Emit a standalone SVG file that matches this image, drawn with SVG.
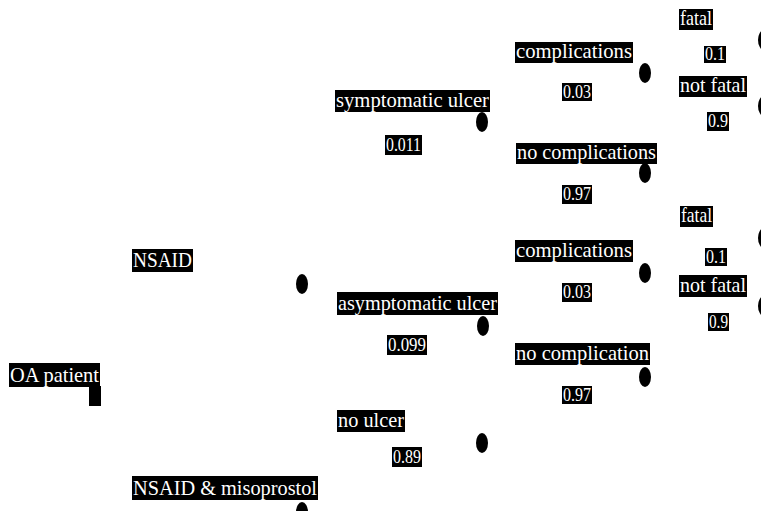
<svg xmlns="http://www.w3.org/2000/svg" width="761" height="511" viewBox="0 0 761 511">
<style>
rect.lb{fill:#000}
text{font-family:"Liberation Serif","Times New Roman",serif;font-size:21px;fill:#fff}
text.n{font-size:19px}
.d{fill:#000}
</style>
<rect width="761" height="511" fill="#fff"/>
<g id="connectors"></g>
<g id="oa-patient">
<rect class="lb" x="9" y="363" width="91" height="24"/>
<text x="10" y="382" textLength="89" lengthAdjust="spacingAndGlyphs">OA patient</text>
<rect class="d" x="89" y="386" width="12" height="20"/>
</g>
<g id="nsaid">
<rect class="lb" x="132" y="249" width="61" height="23"/>
<text x="133" y="267" textLength="59" lengthAdjust="spacingAndGlyphs">NSAID</text>
<ellipse class="d" cx="302" cy="284" rx="6" ry="10"/>
</g>
<g id="nsaid-misoprostol">
<rect class="lb" x="132" y="476" width="186" height="24"/>
<text x="133" y="495" textLength="184" lengthAdjust="spacingAndGlyphs">NSAID &amp; misoprostol</text>
<ellipse class="d" cx="302" cy="512" rx="6" ry="10"/>
</g>
<g id="symptomatic-ulcer">
<rect class="lb" x="335" y="90" width="155" height="22"/>
<text x="336" y="107" textLength="153" lengthAdjust="spacingAndGlyphs">symptomatic ulcer</text>
<rect class="lb" x="385" y="135" width="37" height="20"/>
<text class="n" x="386" y="151" textLength="35" lengthAdjust="spacingAndGlyphs">0.011</text>
<ellipse class="d" cx="482" cy="122" rx="6" ry="10"/>
</g>
<g id="asymptomatic-ulcer">
<rect class="lb" x="337" y="292" width="161" height="23"/>
<text x="338" y="310" textLength="159" lengthAdjust="spacingAndGlyphs">asymptomatic ulcer</text>
<rect class="lb" x="387" y="335" width="40" height="20"/>
<text class="n" x="388" y="351" textLength="38" lengthAdjust="spacingAndGlyphs">0.099</text>
<ellipse class="d" cx="483" cy="326" rx="6" ry="10"/>
</g>
<g id="no-ulcer">
<rect class="lb" x="337" y="410" width="68" height="22"/>
<text x="338" y="427" textLength="66" lengthAdjust="spacingAndGlyphs">no ulcer</text>
<rect class="lb" x="392" y="447" width="30" height="20"/>
<text class="n" x="393" y="463" textLength="28" lengthAdjust="spacingAndGlyphs">0.89</text>
<ellipse class="d" cx="482" cy="443" rx="6" ry="10"/>
</g>
<g id="complications-1">
<rect class="lb" x="515" y="42" width="118" height="21"/>
<text x="516" y="58" textLength="116" lengthAdjust="spacingAndGlyphs">complications</text>
<rect class="lb" x="562" y="83" width="30" height="18"/>
<text class="n" x="563" y="98" textLength="28" lengthAdjust="spacingAndGlyphs">0.03</text>
<ellipse class="d" cx="645" cy="73" rx="6" ry="10"/>
</g>
<g id="no-complications-1">
<rect class="lb" x="516" y="143" width="141" height="21"/>
<text x="517" y="159" textLength="139" lengthAdjust="spacingAndGlyphs">no complications</text>
<rect class="lb" x="562" y="185" width="30" height="19"/>
<text class="n" x="563" y="200" textLength="28" lengthAdjust="spacingAndGlyphs">0.97</text>
<ellipse class="d" cx="645" cy="173" rx="6" ry="10"/>
</g>
<g id="complications-2">
<rect class="lb" x="515" y="240" width="118" height="22"/>
<text x="516" y="257" textLength="116" lengthAdjust="spacingAndGlyphs">complications</text>
<rect class="lb" x="562" y="283" width="30" height="19"/>
<text class="n" x="563" y="298" textLength="28" lengthAdjust="spacingAndGlyphs">0.03</text>
<ellipse class="d" cx="645" cy="273" rx="6" ry="10"/>
</g>
<g id="no-complication-2">
<rect class="lb" x="515" y="343" width="135" height="22"/>
<text x="516" y="360" textLength="133" lengthAdjust="spacingAndGlyphs">no complication</text>
<rect class="lb" x="562" y="386" width="30" height="18"/>
<text class="n" x="563" y="401" textLength="28" lengthAdjust="spacingAndGlyphs">0.97</text>
<ellipse class="d" cx="645" cy="377" rx="6" ry="10"/>
</g>
<g id="fatal-1">
<rect class="lb" x="679" y="9" width="34" height="21"/>
<text x="680" y="25" textLength="32" lengthAdjust="spacingAndGlyphs">fatal</text>
<rect class="lb" x="704" y="46" width="22" height="17"/>
<text class="n" x="705" y="60" textLength="20" lengthAdjust="spacingAndGlyphs">0.1</text>
<ellipse class="d" cx="764" cy="40" rx="6" ry="10"/>
</g>
<g id="not-fatal-1">
<rect class="lb" x="679" y="76" width="68" height="21"/>
<text x="680" y="92" textLength="66" lengthAdjust="spacingAndGlyphs">not fatal</text>
<rect class="lb" x="707" y="112" width="22" height="19"/>
<text class="n" x="708" y="127" textLength="20" lengthAdjust="spacingAndGlyphs">0.9</text>
<ellipse class="d" cx="764" cy="106" rx="6" ry="10"/>
</g>
<g id="fatal-2">
<rect class="lb" x="680" y="206" width="33" height="21"/>
<text x="681" y="222" textLength="31" lengthAdjust="spacingAndGlyphs">fatal</text>
<rect class="lb" x="705" y="248" width="22" height="18"/>
<text class="n" x="706" y="263" textLength="20" lengthAdjust="spacingAndGlyphs">0.1</text>
<ellipse class="d" cx="764" cy="238" rx="6" ry="10"/>
</g>
<g id="not-fatal-2">
<rect class="lb" x="679" y="275" width="68" height="22"/>
<text x="680" y="292" textLength="66" lengthAdjust="spacingAndGlyphs">not fatal</text>
<rect class="lb" x="708" y="313" width="21" height="18"/>
<text class="n" x="709" y="328" textLength="19" lengthAdjust="spacingAndGlyphs">0.9</text>
<ellipse class="d" cx="764" cy="306" rx="6" ry="10"/>
</g>
</svg>
